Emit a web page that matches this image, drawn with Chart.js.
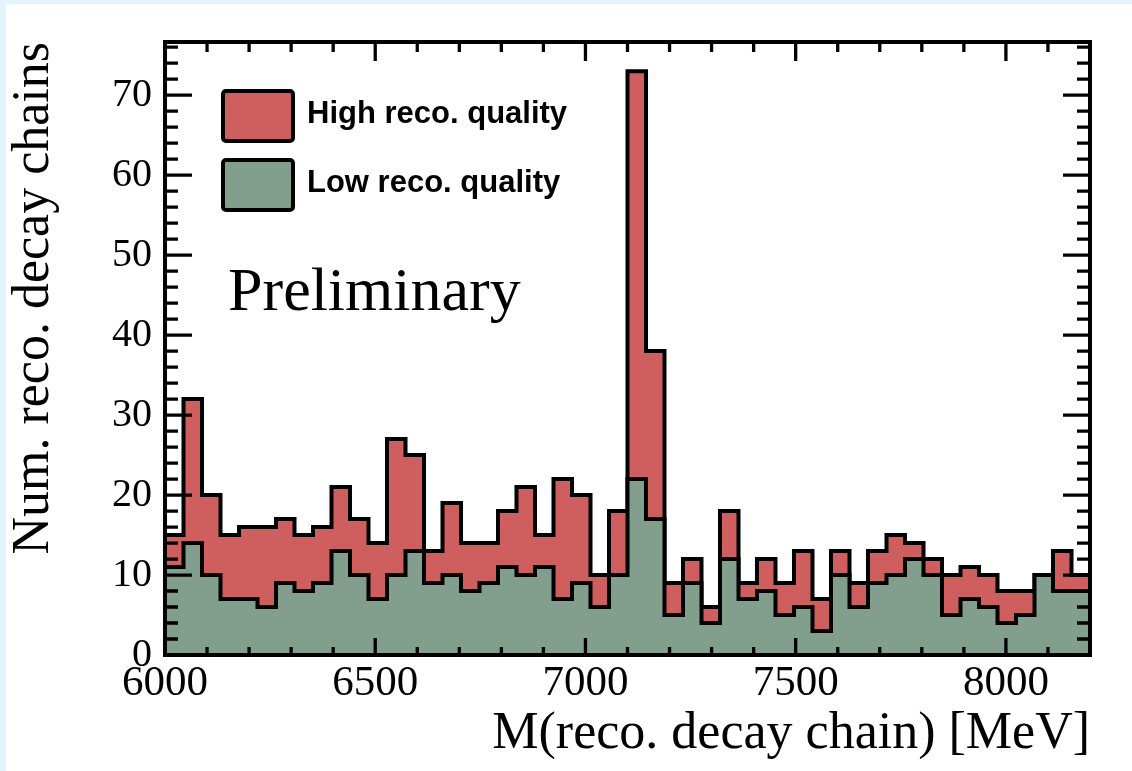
<!DOCTYPE html>
<html>
<head>
<meta charset="utf-8">
<script src="https://cdn.jsdelivr.net/npm/chart.js@4.4.1/dist/chart.umd.min.js"></script>
<style>
html,body{margin:0;padding:0;background:#e3f3fb;width:1132px;height:771px;overflow:hidden;}
#wrap{position:absolute;left:6px;top:4px;width:1126px;height:767px;background:#ffffff;}
canvas{display:block;}
</style>
</head>
<body>
<div id="wrap"><canvas id="c" width="1126" height="767"></canvas></div>
<script>
// ---- data ----
const binLowEdges = [6000,6044,6088,6132,6176,6220,6264,6308,6352,6396,
  6440,6484,6528,6572,6616,6660,6704,6748,6792,6836,
  6880,6924,6968,7012,7056,7100,7144,7188,7232,7276,
  7320,7364,7408,7452,7496,7540,7584,7628,7672,7716,
  7760,7804,7848,7892,7936,7980,8024,8068,8112,8156];
const binUpperEdge = 8200;
const highQuality = [4,18,10,8,9,10,8,7,7,8, 7,7,17,12,4,9,6,5,7,11,
  4,15,11,4,8,51,21,4,3,2, 6,2,4,4,7,4,3,3,4,5, 2,2,5,4,4,4,3,0,5,2];
const lowQuality = [11,14,10,7,7,6,9,8,9,13, 10,7,10,13,9,10,8,9,11,10,
  11,7,9,6,10,22,17,5,9,4, 12,7,8,5,6,3,10,6,9,10, 12,10,5,7,6,4,5,10,8,8];
const seriesLabels = ['High reco. quality', 'Low reco. quality'];
const xTickValues = [6000, 6500, 7000, 7500, 8000];
const yTickValues = [0, 10, 20, 30, 40, 50, 60, 70];
const xRange = [6000, 8200];
const yRange = [0, 76.65];
const xTitle = 'M(reco. decay chain) [MeV]';
const yTitle = 'Num. reco. decay chains';
const watermark = 'Preliminary';

// ---- build histogram step points (stacked) ----
function histPoints(values) {
  const pts = binLowEdges.map((x, i) => ({x: x, y: values[i]}));
  pts.push({x: binUpperEdge, y: values[values.length - 1]});
  return pts;
}
const stackedTotal = highQuality.map((v, i) => v + lowQuality[i]);

const RED = '#cf5f5f';
const GREEN = '#819f8c';

// frame + inward ticks (ROOT style), drawn through the library scales
const frameTicks = {
  id: 'frameTicks',
  afterDatasetsDraw(chart) {
    const {ctx, chartArea: a, scales: {x, y}} = chart;
    ctx.save();
    ctx.strokeStyle = '#000';
    ctx.lineWidth = 3.3;
    ctx.lineCap = 'butt';
    ctx.beginPath();
    for (let v = xRange[0] + 100; v < xRange[1]; v += 100) {
      const px = x.getPixelForValue(v);
      const major = xTickValues.includes(v);
      ctx.moveTo(px, a.bottom); ctx.lineTo(px, a.bottom - (major ? 17 : 8));
      ctx.moveTo(px, a.top); ctx.lineTo(px, a.top + (major ? 19 : 10));
    }
    for (let v = 2; v < yRange[1]; v += 2) {
      const py = y.getPixelForValue(v);
      const major = yTickValues.includes(v);
      ctx.moveTo(a.left, py); ctx.lineTo(a.left + (major ? 27 : 13), py);
      ctx.moveTo(a.right, py); ctx.lineTo(a.right - (major ? 27 : 13), py);
    }
    ctx.stroke();
    ctx.lineWidth = 4;
    ctx.strokeRect(a.left, a.top, a.right - a.left, a.bottom - a.top);
    ctx.restore();
  }
};

// legend inside the frame + watermark text
const insideLegend = {
  id: 'insideLegend',
  afterDatasetsDraw(chart) {
    const ctx = chart.ctx;
    ctx.save();
    chart.data.datasets.forEach((ds, i) => {
      const bx = 217, by = 87 + i * 69, bw = 70, bh = 50;
      ctx.fillStyle = ds.backgroundColor;
      ctx.strokeStyle = '#000';
      ctx.lineWidth = 4;
      ctx.beginPath();
      if (ctx.roundRect) ctx.roundRect(bx, by, bw, bh, 3); else ctx.rect(bx, by, bw, bh);
      ctx.fill();
      ctx.stroke();
      ctx.fillStyle = '#000';
      ctx.font = 'bold 31px "Liberation Sans", Arial, sans-serif';
      ctx.textAlign = 'left';
      ctx.textBaseline = 'alphabetic';
      ctx.fillText(ds.label, 301, by + 32);
    });
    ctx.font = '62px "Liberation Serif", "Times New Roman", serif';
    ctx.fillStyle = '#000';
    ctx.textAlign = 'left';
    ctx.textBaseline = 'alphabetic';
    ctx.fillText(watermark, 222, 306);
    ctx.restore();
  }
};

new Chart(document.getElementById('c'), {
  type: 'line',
  data: {
    datasets: [
      {
        label: seriesLabels[0],
        data: histPoints(stackedTotal),
        backgroundColor: RED,
        borderColor: '#000',
        borderWidth: 4,
        fill: 'origin',
        stepped: true,
        pointRadius: 0,
        order: 2
      },
      {
        label: seriesLabels[1],
        data: histPoints(lowQuality),
        backgroundColor: GREEN,
        borderColor: '#000',
        borderWidth: 4,
        fill: 'origin',
        stepped: true,
        pointRadius: 0,
        order: 1
      }
    ]
  },
  options: {
    responsive: false,
    animation: false,
    devicePixelRatio: 1,
    layout: {padding: {left: 0, top: 38, right: 42, bottom: 0}},
    plugins: {legend: {display: false}, tooltip: {enabled: false}},
    elements: {line: {borderJoinStyle: 'miter', borderCapStyle: 'butt', tension: 0}},
    scales: {
      x: {
        type: 'linear',
        min: xRange[0], max: xRange[1],
        afterBuildTicks(scale) { scale.ticks = xTickValues.map(v => ({value: v})); },
        afterFit(scale) { scale.height = 116; },
        grid: {display: false, drawTicks: false},
        border: {display: false},
        ticks: {
          autoSkip: false, maxRotation: 0, padding: 3,
          color: '#000',
          font: {family: '"Liberation Serif", "Times New Roman", serif', size: 43, lineHeight: 1.2},
          callback: v => String(v)
        },
        title: {
          display: true, text: xTitle, align: 'end', color: '#000',
          font: {family: '"Liberation Serif", "Times New Roman", serif', size: 52, lineHeight: 1.1},
          padding: {top: 0, bottom: 8}
        }
      },
      y: {
        type: 'linear',
        min: yRange[0], max: yRange[1],
        afterBuildTicks(scale) { scale.ticks = yTickValues.map(v => ({value: v})); },
        afterFit(scale) { scale.width = 159; },
        grid: {display: false, drawTicks: false},
        border: {display: false},
        ticks: {
          padding: 13, color: '#000',
          font: {family: '"Liberation Serif", "Times New Roman", serif', size: 40, lineHeight: 1.2},
          callback: v => String(v)
        },
        title: {
          display: true, text: yTitle, align: 'end', color: '#000',
          font: {family: '"Liberation Serif", "Times New Roman", serif', size: 52, lineHeight: 1.1},
          padding: {top: 0, bottom: 0}
        }
      }
    }
  },
  plugins: [frameTicks, insideLegend]
});
</script>
</body>
</html>
